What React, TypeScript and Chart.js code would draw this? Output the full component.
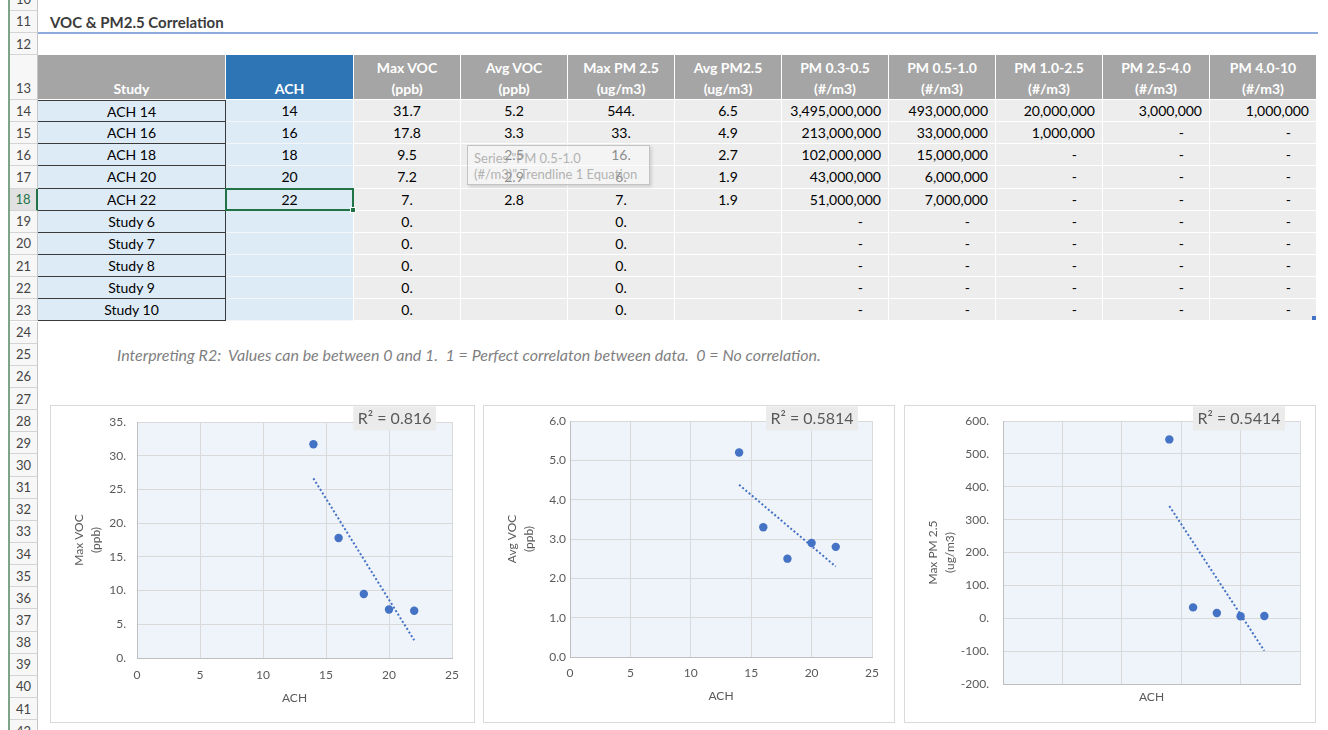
import React, { useEffect, useRef } from "react";
import { Chart, registerables } from "chart.js";

Chart.register(...registerables);

const FONT = "Lato, 'Open Sans', 'Noto Sans', sans-serif";

// ---------- data ----------
const studies = ["ACH 14", "ACH 16", "ACH 18", "ACH 20", "ACH 22", "Study 6", "Study 7", "Study 8", "Study 9", "Study 10"];
const achValues = [14, 16, 18, 20, 22];
const maxVoc = [31.7, 17.8, 9.5, 7.2, 7.0];
const avgVoc = [5.2, 3.3, 2.5, 2.9, 2.8];
const maxPm25 = [544, 33, 16, 6, 7];
const avgPm25 = [6.5, 4.9, 2.7, 1.9, 1.9];
const pm03to05 = [3495000000, 213000000, 102000000, 43000000, 51000000];
const pm05to10 = [493000000, 33000000, 15000000, 6000000, 7000000];
const pm10to25 = [20000000, 1000000, 0, 0, 0];
const pm25to40 = [3000000, 0, 0, 0, 0];
const pm40to10 = [1000000, 0, 0, 0, 0];
const emptyStudyValue = 0;

const headers: string[][] = [
  ["Study"],
  ["ACH"],
  ["Max VOC", "(ppb)"],
  ["Avg VOC", "(ppb)"],
  ["Max PM 2.5", "(ug/m3)"],
  ["Avg PM2.5", "(ug/m3)"],
  ["PM 0.3-0.5", "(#/m3)"],
  ["PM 0.5-1.0", "(#/m3)"],
  ["PM 1.0-2.5", "(#/m3)"],
  ["PM 2.5-4.0", "(#/m3)"],
  ["PM 4.0-10", "(#/m3)"],
];

const titleText = "VOC & PM2.5 Correlation";
const noteText =
  "Interpreting R2:  Values can be between 0 and 1.  1 = Perfect correlaton between data.  0 = No correlation.";
const tooltipLines = ['Series "PM 0.5-1.0', '(#/m3)" Trendline 1 Equation'];

const xTicksAch = [0, 25, 5]; // min, max, step
const r2Labels = ["R\u00B2 = 0.816", "R\u00B2 = 0.5814", "R\u00B2 = 0.5414"];
const yTitles = [["Max VOC", "(ppb)"], ["Avg VOC", "(ppb)"], ["Max PM 2.5", "(ug/m3)"]];
const yRanges = [
  [0, 35, 5],
  [0, 6, 1],
  [-200, 600, 100],
];

// ---------- helpers ----------
const dot = (v: number) => (Number.isInteger(v) ? `${v}.` : String(v));
const count = (v: number) => (v === 0 ? "-" : v.toLocaleString("en-US"));

function linearFit(xs: number[], ys: number[]) {
  const n = xs.length;
  const mx = xs.reduce((a, b) => a + b, 0) / n;
  const my = ys.reduce((a, b) => a + b, 0) / n;
  let sxy = 0;
  let sxx = 0;
  for (let i = 0; i < n; i++) {
    sxy += (xs[i] - mx) * (ys[i] - my);
    sxx += (xs[i] - mx) * (xs[i] - mx);
  }
  const slope = sxy / sxx;
  const icpt = my - slope * mx;
  return (x: number) => icpt + slope * x;
}

// ---------- layout ----------
const COL_X = [38, 226, 354, 461, 568, 675, 782, 889, 996, 1103, 1210, 1317];
const ROW_H = 22.15;
function rowTop(r: number) {
  if (r === 10) return -11.5;
  if (r === 11) return 10.5;
  if (r === 12) return 33;
  if (r === 13) return 55.3;
  return 100 + (r - 14) * ROW_H;
}
const rowH = (r: number) => rowTop(r + 1) - rowTop(r);

const GRAY_TXT = "#595959";

// ---------- chart plugins ----------
const framePlugin = {
  id: "excelFrame",
  beforeDraw(chart: any) {
    const { ctx, width, height, chartArea: a } = chart;
    ctx.save();
    ctx.fillStyle = "#FFFFFF";
    ctx.fillRect(0, 0, width, height);
    ctx.strokeStyle = "#D9D9D9";
    ctx.lineWidth = 1;
    ctx.strokeRect(0.5, 0.5, width - 1, height - 1);
    ctx.fillStyle = "#EFF4FA";
    ctx.fillRect(a.left, a.top, a.right - a.left, a.bottom - a.top);
    ctx.restore();
  },
};

const r2Plugin = {
  id: "r2Label",
  afterDraw(chart: any, _args: any, opts: any) {
    const { ctx, chartArea } = chart;
    ctx.save();
    ctx.font = `16px ${FONT}`;
    const w = ctx.measureText(opts.text).width + 9;
    const x1 = chartArea.right - opts.right;
    const x0 = x1 - w;
    ctx.fillStyle = "#EBEBEB";
    ctx.fillRect(x0, 1.5, w, 24);
    ctx.fillStyle = GRAY_TXT;
    ctx.textAlign = "center";
    ctx.textBaseline = "middle";
    ctx.fillText(opts.text, (x0 + x1) / 2, 14);
    ctx.restore();
  },
};

type Spec = {
  left: number;
  top: number;
  width: number;
  height: number;
  ys: number[];
  idx: number;
  yFmt: (v: number) => string;
  padTop: number;
  padRight: number;
  yWidth: number;
  xHeight: number;
  yTickPad: number;
  xTickPad: number;
  xTitlePad: number;
  xTicks: boolean;
  r2Right: number;
};

const specs: Spec[] = [
  {
    left: 50, top: 405, width: 425, height: 318, ys: maxVoc, idx: 0,
    yFmt: (v) => `${v}.`, padTop: 17, padRight: 23, yWidth: 67, xHeight: 65,
    yTickPad: 11, xTickPad: 10, xTitlePad: 18, xTicks: true, r2Right: 16,
  },
  {
    left: 483, top: 405, width: 412, height: 318, ys: avgVoc, idx: 1,
    yFmt: (v) => v.toFixed(1), padTop: 16, padRight: 23, yWidth: 67, xHeight: 66,
    yTickPad: 4, xTickPad: 9, xTitlePad: 20, xTicks: true, r2Right: 14,
  },
  {
    left: 904, top: 405, width: 412, height: 318, ys: maxPm25, idx: 2,
    yFmt: (v) => `${v}.`, padTop: 16, padRight: 16, yWidth: 79, xHeight: 39,
    yTickPad: 14, xTickPad: 9, xTitlePad: 19, xTicks: false, r2Right: 15,
  },
];

function ScatterChart({ spec }: { spec: Spec }) {
  const ref = useRef<HTMLCanvasElement>(null);
  useEffect(() => {
    if (!ref.current) return;
    const f = linearFit(achValues, spec.ys);
    const xs0 = achValues[0];
    const xs1 = achValues[achValues.length - 1];
    const [ymin, ymax, ystep] = yRanges[spec.idx];
    const tickFont = { family: FONT, size: 12 };
    const chart = new Chart(ref.current, {
      type: "scatter",
      data: {
        datasets: [
          {
            data: achValues.map((x, i) => ({ x, y: spec.ys[i] })),
            backgroundColor: "#4472C4",
            borderColor: "#4472C4",
            pointRadius: 4.2,
            pointBorderWidth: 0,
            pointHoverRadius: 4.2,
          },
          {
            data: [
              { x: xs0, y: f(xs0) },
              { x: xs1, y: f(xs1) },
            ],
            showLine: true,
            borderColor: "#4472C4",
            borderWidth: 2,
            borderDash: [2, 2.2],
            pointRadius: 0,
            fill: false,
          },
        ],
      },
      options: {
        responsive: false,
        animation: false,
        events: [],
        layout: { padding: { left: 20, top: spec.padTop, right: spec.padRight, bottom: 0 } },
        plugins: {
          legend: { display: false },
          tooltip: { enabled: false },
          // @ts-ignore
          r2Label: { text: r2Labels[spec.idx], right: spec.r2Right },
        },
        scales: {
          x: {
            type: "linear",
            min: xTicksAch[0],
            max: xTicksAch[1],
            afterFit: (s: any) => {
              s.height = spec.xHeight;
            },
            ticks: {
              stepSize: xTicksAch[2],
              display: spec.xTicks,
              padding: spec.xTickPad,
              font: tickFont,
              color: GRAY_TXT,
            },
            grid: { color: "#D9D9D9", drawTicks: false },
            border: { color: "#BFBFBF" },
            title: {
              display: true,
              text: "ACH",
              font: tickFont,
              color: GRAY_TXT,
              padding: { top: 0, bottom: spec.xTitlePad },
            },
          },
          y: {
            type: "linear",
            min: ymin,
            max: ymax,
            afterFit: (s: any) => {
              s.width = spec.yWidth;
            },
            ticks: {
              stepSize: ystep,
              padding: 0,
              font: tickFont,
              color: GRAY_TXT,
              callback: (v: any) => spec.yFmt(Number(v)),
            },
            grid: {
              color: "#D9D9D9",
              drawTicks: true,
              tickLength: spec.yTickPad,
              tickColor: "rgba(0,0,0,0)",
            },
            border: { color: "#BFBFBF" },
            title: {
              display: true,
              text: yTitles[spec.idx],
              font: { family: FONT, size: 12, lineHeight: 1.45 },
              color: GRAY_TXT,
              padding: { top: 0, bottom: 0 },
            },
          },
        },
      },
      plugins: [framePlugin, r2Plugin],
    } as any);
    return () => chart.destroy();
  }, [spec]);
  return (
    <canvas
      ref={ref}
      width={spec.width}
      height={spec.height}
      style={{ position: "absolute", left: spec.left, top: spec.top, width: spec.width, height: spec.height }}
    />
  );
}

function cellText(col: number, i: number): string {
  const has = i < achValues.length;
  switch (col) {
    case 0:
      return studies[i];
    case 1:
      return has ? String(achValues[i]) : "";
    case 2:
      return dot(has ? maxVoc[i] : emptyStudyValue);
    case 3:
      return has ? avgVoc[i].toFixed(1) : "";
    case 4:
      return dot(has ? maxPm25[i] : emptyStudyValue);
    case 5:
      return has ? avgPm25[i].toFixed(1) : "";
    case 6:
      return count(has ? pm03to05[i] : emptyStudyValue);
    case 7:
      return count(has ? pm05to10[i] : emptyStudyValue);
    case 8:
      return count(has ? pm10to25[i] : emptyStudyValue);
    case 9:
      return count(has ? pm25to40[i] : emptyStudyValue);
    case 10:
      return count(has ? pm40to10[i] : emptyStudyValue);
  }
  return "";
}

export default function App() {
  const rowHeaders: React.ReactNode[] = [];
  for (let r = 10; r <= 42; r++) {
    const sel = r === 18;
    rowHeaders.push(
      <div
        key={"rh" + r}
        style={{
          position: "absolute",
          left: 10,
          top: rowTop(r),
          width: 28,
          height: rowH(r),
          boxSizing: "border-box",
          borderBottom: "1px solid #D4D4D4",
          borderRight: sel ? "2px solid #217346" : "1px solid #C6C6C6",
          background: sel ? "#E1E1E1" : "#F7F7F7",
          color: sel ? "#217346" : "#444444",
          fontSize: 13,
          display: "flex",
          alignItems: r === 13 ? "flex-end" : "center",
          paddingBottom: r === 13 ? 3 : 0,
          justifyContent: "center",
        }}
      >
        {r}
      </div>
    );
  }

  const headerCells = headers.map((h, c) => (
    <div
      key={"h" + c}
      style={{
        position: "absolute",
        left: COL_X[c],
        top: rowTop(13),
        width: COL_X[c + 1] - COL_X[c] - 1,
        height: 100 - rowTop(13) - 1,
        background: c === 1 ? "#2E75B6" : "#A5A5A5",
        color: "#FFFFFF",
        fontWeight: 700,
        fontSize: 14,
        lineHeight: "21px",
        display: "flex",
        flexDirection: "column",
        justifyContent: "flex-end",
        alignItems: "center",
      }}
    >
      {h.map((t, k) => (
        <div key={k}>{t}</div>
      ))}
    </div>
  ));

  const dataCells: React.ReactNode[] = [];
  for (let i = 0; i < studies.length; i++) {
    const r = 14 + i;
    for (let c = 0; c < headers.length; c++) {
      const txt = cellText(c, i);
      const isCount = c >= 6;
      const isDash = txt === "-";
      const top = rowTop(r);
      const h = rowH(r);
      let style: React.CSSProperties = {
        position: "absolute",
        left: COL_X[c],
        top,
        width: COL_X[c + 1] - COL_X[c],
        height: h,
        boxSizing: "border-box",
        fontSize: 14,
        color: "#000000",
        lineHeight: `${h - 1}px`,
        whiteSpace: "nowrap",
        textAlign: isCount ? "right" : "center",
        paddingRight: isCount ? (isDash ? 25 : 7) : 0,
      };
      if (c === 0) {
        style = {
          ...style,
          background: "#DDEBF7",
          borderBottom: "1px solid #3A3A3A",
          borderRight: "1px solid #3A3A3A",
          borderTop: i === 0 ? "1px solid #3A3A3A" : undefined,
        };
      } else if (c === 1) {
        style = { ...style, background: "#DDEBF7", borderBottom: "1px solid #F2F6FB", borderRight: "1px solid #FFFFFF" };
      } else {
        style = { ...style, background: "#EDEDED", borderBottom: "1px solid #FFFFFF", borderRight: "1px solid #FFFFFF" };
      }
      dataCells.push(
        <div key={`d${i}-${c}`} style={style}>
          {txt}
        </div>
      );
    }
  }

  return (
    <div
      style={{
        position: "fixed",
        left: 0,
        top: 0,
        width: 1328,
        height: 730,
        overflow: "hidden",
        background: "#FFFFFF",
        fontFamily: FONT,
      }}
    >
      {/* left edge line */}
      <div style={{ position: "absolute", left: 8, top: 0, width: 2, height: 730, background: "#7FA386" }} />
      {rowHeaders}

      {/* title */}
      <div
        style={{
          position: "absolute",
          left: 50,
          top: rowTop(11),
          height: rowH(11),
          lineHeight: `${rowH(11)}px`,
          fontSize: 15,
          fontWeight: 700,
          color: "#3B3B3B",
          whiteSpace: "nowrap",
        }}
      >
        {titleText}
      </div>
      <div style={{ position: "absolute", left: 38, top: 32, width: 1280, height: 2, background: "#8FAADC" }} />

      {headerCells}
      {dataCells}

      {/* selected cell */}
      <div
        style={{
          position: "absolute",
          left: COL_X[1] - 1,
          top: rowTop(18) - 1,
          width: COL_X[2] - COL_X[1] + 1,
          height: rowH(18) + 1,
          boxSizing: "border-box",
          border: "2px solid #217346",
        }}
      />
      <div
        style={{
          position: "absolute",
          left: COL_X[2] - 4,
          top: rowTop(19) - 4,
          width: 6,
          height: 6,
          background: "#217346",
          border: "1px solid #FFFFFF",
          boxSizing: "border-box",
        }}
      />
      {/* table resize handle */}
      <div style={{ position: "absolute", left: 1312, top: 316, width: 4, height: 4, background: "#4472C4" }} />

      {/* hover tooltip */}
      <div
        style={{
          position: "absolute",
          left: 467,
          top: 145,
          width: 183,
          height: 40,
          boxSizing: "border-box",
          background: "rgba(250,250,250,0.55)",
          border: "1px solid rgba(190,190,190,0.9)",
          boxShadow: "2px 2px 3px rgba(0,0,0,0.12)",
          color: "rgba(160,160,160,0.8)",
          fontSize: 13,
          lineHeight: "16px",
          padding: "4px 6px",
          whiteSpace: "nowrap",
        }}
      >
        {tooltipLines.map((t, k) => (
          <div key={k}>{t}</div>
        ))}
      </div>

      {/* note */}
      <div
        style={{
          position: "absolute",
          left: 117,
          top: rowTop(25),
          height: rowH(25),
          lineHeight: `${rowH(25)}px`,
          fontSize: 16,
          fontStyle: "italic",
          color: "#7F7F7F",
          whiteSpace: "pre",
        }}
      >
        {noteText}
      </div>

      {specs.map((s) => (
        <ScatterChart key={s.idx} spec={s} />
      ))}
    </div>
  );
}
